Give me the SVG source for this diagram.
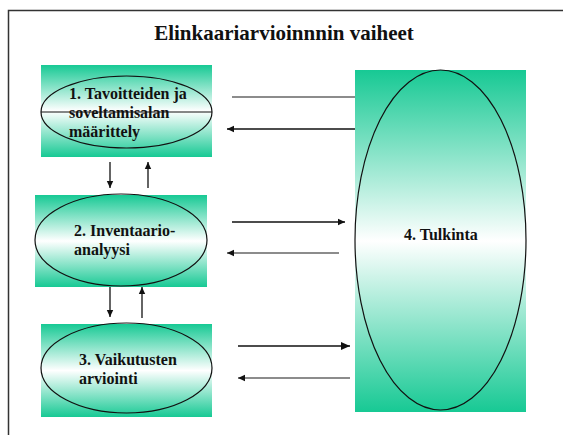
<svg xmlns="http://www.w3.org/2000/svg" width="563" height="435" viewBox="0 0 563 435">
<style>
  .lbl { font-family: "Liberation Serif", "Times New Roman", serif; font-weight: bold; font-size: 16px; fill: #111; }
  .title { font-family: "Liberation Serif", "Times New Roman", serif; font-weight: bold; font-size: 21px; fill: #111; }
  .ell { fill: none; stroke: #111; stroke-width: 1.2; }
  .con { stroke: #111; stroke-width: 1.3; fill: none; }
  .gray { stroke: #666; }
</style>
<defs>
  <linearGradient id="g" x1="0" y1="0" x2="0" y2="1">
    <stop offset="0" stop-color="#17c994"/>
    <stop offset="0.5" stop-color="#ffffff"/>
    <stop offset="1" stop-color="#17c994"/>
  </linearGradient>
  <marker id="ah" markerUnits="userSpaceOnUse" markerWidth="8" markerHeight="8" refX="7" refY="4" orient="auto">
    <path d="M0,0.8 L7,4 L0,7.2 Z" fill="#111"/>
  </marker>
  <marker id="ahb" markerUnits="userSpaceOnUse" markerWidth="10" markerHeight="10" refX="9" refY="5" orient="auto">
    <path d="M0,1 L9,5 L0,9 Z" fill="#111"/>
  </marker>
</defs>
<rect width="563" height="435" fill="#fff"/>
<path d="M8.5,435 L8.5,10.5 L563,10.5" fill="none" stroke="#333" stroke-width="1.5"/>
<text class="title" x="284" y="40" text-anchor="middle">Elinkaariarvioinnnin vaiheet</text>

<g id="node1">
  <rect x="41" y="65" width="171" height="92" fill="url(#g)"/>
  <ellipse class="ell" cx="126.5" cy="112" rx="85.5" ry="36"/>
  <line x1="41" y1="112" x2="212" y2="112" stroke="#111" stroke-width="1.2"/>
  <text class="lbl" x="69" y="99">1. Tavoitteiden ja</text>
  <text class="lbl" x="69" y="118">soveltamisalan</text>
  <text class="lbl" x="69" y="137">määrittely</text>
</g>
<g id="node2">
  <rect x="35" y="195" width="172" height="92" fill="url(#g)"/>
  <ellipse class="ell" cx="121" cy="240" rx="86" ry="46"/>
  <text class="lbl" x="74" y="236">2. Inventaario-</text>
  <text class="lbl" x="74" y="255">analyysi</text>
</g>
<g id="node3">
  <rect x="41" y="324" width="171" height="93" fill="url(#g)"/>
  <ellipse class="ell" cx="126.5" cy="368" rx="85.5" ry="45"/>
  <text class="lbl" x="79" y="365">3. Vaikutusten</text>
  <text class="lbl" x="79" y="384">arviointi</text>
</g>
<g id="node4">
  <rect x="355" y="70" width="171" height="342" fill="url(#g)"/>
  <ellipse class="ell" cx="440.5" cy="240" rx="85.5" ry="170"/>
  <text class="lbl" x="404" y="240">4. Tulkinta</text>
</g>

<g id="connectors">
  <line class="con" x1="110" y1="162" x2="110" y2="188" marker-end="url(#ah)"/>
  <line class="con" x1="148" y1="188" x2="148" y2="162" marker-end="url(#ah)"/>
  <line class="con" x1="110" y1="287" x2="110" y2="317" marker-end="url(#ah)"/>
  <line class="con" x1="142" y1="318" x2="142" y2="287" marker-end="url(#ah)"/>
  <line class="con gray" x1="232" y1="97" x2="355" y2="97"/>
  <line class="con" x1="355" y1="129" x2="227" y2="129" marker-end="url(#ah)"/>
  <line class="con" x1="232" y1="222" x2="345" y2="222" marker-end="url(#ah)"/>
  <line class="con gray" x1="339" y1="253" x2="227" y2="253" marker-end="url(#ah)"/>
  <line class="con" x1="238" y1="346" x2="350" y2="346" stroke-width="2.2" marker-end="url(#ahb)"/>
  <line class="con gray" x1="350" y1="378" x2="238" y2="378" marker-end="url(#ah)"/>
</g>
</svg>
